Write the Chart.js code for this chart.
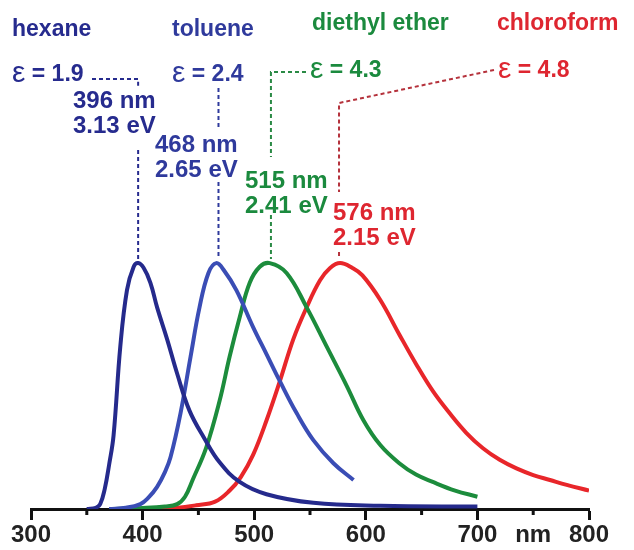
<!DOCTYPE html>
<html>
<head>
<meta charset="utf-8">
<script src="https://cdn.jsdelivr.net/npm/chart.js@4.4.1/dist/chart.umd.min.js"></script>
<style>
  html, body { margin: 0; padding: 0; background: #fff; }
  #wrap { width: 634px; height: 550px; }
</style>
</head>
<body>
<div id="wrap"><canvas id="chart" width="634" height="550"></canvas></div>
<script>
// emission spectra, normalised intensity
const hexaneNm = [350, 358, 362, 366, 370, 374, 380, 386, 392, 396, 401, 407, 413, 422, 431, 442, 455, 469, 487, 511, 553, 613, 700];
const hexaneI = [0, 0.005, 0.02, 0.08, 0.18, 0.3, 0.66, 0.89, 0.985, 1.0, 0.98, 0.92, 0.82, 0.69, 0.55, 0.40, 0.29, 0.19, 0.11, 0.06, 0.025, 0.013, 0.01];

const tolueneNm = [370, 385, 398, 405, 413, 420, 425, 434, 443, 451, 459, 466, 473, 484, 499, 511, 523, 538, 553, 571, 589];
const tolueneI = [0, 0.005, 0.02, 0.045, 0.09, 0.15, 0.21, 0.39, 0.62, 0.82, 0.96, 1.0, 0.97, 0.89, 0.74, 0.63, 0.52, 0.39, 0.28, 0.186, 0.118];

const etherNm = [370, 400, 420, 431, 438, 445, 457, 469, 478, 487, 496, 505, 514, 529, 547, 565, 583, 598, 613, 630, 645, 660, 680, 700];
const etherI = [0, 0.004, 0.01, 0.02, 0.05, 0.12, 0.25, 0.44, 0.62, 0.78, 0.92, 0.985, 1.0, 0.96, 0.82, 0.66, 0.50, 0.36, 0.26, 0.186, 0.14, 0.11, 0.075, 0.05];

const chloroformNm = [400, 430, 448, 465, 478, 488, 499, 511, 523, 535, 547, 559, 568, 577, 588, 597, 613, 630, 645, 660, 675, 690, 705, 720, 735, 750, 765, 780, 800];
const chloroformI = [0, 0.005, 0.015, 0.03, 0.075, 0.13, 0.22, 0.36, 0.52, 0.69, 0.82, 0.93, 0.98, 1.0, 0.98, 0.95, 0.85, 0.71, 0.59, 0.48, 0.39, 0.31, 0.247, 0.20, 0.165, 0.138, 0.118, 0.098, 0.075];

// annotations
const solventNames = ['hexane', 'toluene', 'diethyl ether', 'chloroform'];
const epsilonValues = ['1.9', '2.4', '4.3', '4.8'];
const peakNm = [396, 468, 515, 576];
const peakEv = ['3.13', '2.65', '2.41', '2.15'];

const lineColors = ['#252a8c', '#3a4db5', '#1c8c3c', '#e8262a'];
const textColors = ['#262b8e', '#2f3a9c', '#1b8a3e', '#de2630'];
const leaderColors = ['#262b8e', '#2f3a9c', '#2a8a45', '#b5323c'];

// where the text sits (pixels)
const labelLayout = [
  { name: [12, 30], eps: [12, 75], nm: [73, 101], ev: [73, 126], lead: [[92, 79], [null, 79], [null, 87]], gap: 150 },
  { name: [172, 30], eps: [172, 75], nm: [155, 145], ev: [155, 170], lead: [[null, 88], [null, 127]], gap: 182 },
  { name: [312, 24], eps: [310, 71], nm: [245, 181], ev: [245, 206], lead: [[306, 72], [null, 72], [null, 157]], gap: 215 },
  { name: [497, 24], eps: [498, 71], nm: [333, 213], ev: [333, 238], lead: [[494, 70], [null, 103], [null, 192]], gap: 252 }
];

const FONT = '"Liberation Sans", Arial, sans-serif';

function toPoints(xs, ys) {
  return xs.map((x, i) => ({ x: x, y: ys[i] }));
}

const series = [
  toPoints(hexaneNm, hexaneI),
  toPoints(tolueneNm, tolueneI),
  toPoints(etherNm, etherI),
  toPoints(chloroformNm, chloroformI)
];

const annotationPlugin = {
  id: 'annotations',
  afterDatasetsDraw(chart) {
    const ctx = chart.ctx;
    const xs = chart.scales.x;
    const ys = chart.scales.y;
    const top = ys.getPixelForValue(1);
    ctx.save();
    solventNames.forEach((name, i) => {
      const lay = labelLayout[i];
      const lx = xs.getPixelForValue(peakNm[i]);
      ctx.textBaseline = 'middle';
      ctx.textAlign = 'left';
      ctx.fillStyle = textColors[i];
      ctx.font = 'bold 23px ' + FONT;
      ctx.fillText(name, lay.name[0], lay.name[1]);

      // epsilon
      ctx.font = '30px ' + FONT;
      ctx.fillText('ε', lay.eps[0], lay.eps[1] - 1);
      const ew = ctx.measureText('ε').width;
      ctx.font = 'bold 23px ' + FONT;
      ctx.fillText(' = ' + epsilonValues[i], lay.eps[0] + ew, lay.eps[1]);

      ctx.font = 'bold 24px ' + FONT;
      ctx.fillText(peakNm[i] + ' nm', lay.nm[0], lay.nm[1]);
      ctx.fillText(peakEv[i] + ' eV', lay.ev[0], lay.ev[1]);

      // dashed leaders
      ctx.strokeStyle = leaderColors[i];
      ctx.lineWidth = 2;
      ctx.setLineDash([4, 3]);
      ctx.beginPath();
      lay.lead.forEach((p, k) => {
        const px = p[0] === null ? lx : p[0];
        if (k === 0) ctx.moveTo(px, p[1]); else ctx.lineTo(px, p[1]);
      });
      ctx.moveTo(lx, lay.gap);
      ctx.lineTo(lx, top - 4);
      ctx.stroke();
    });
    ctx.restore();
  },
  afterDraw(chart) {
    // minor ticks between the labelled ones
    const ctx = chart.ctx;
    const xs = chart.scales.x;
    const y0 = chart.chartArea.bottom;
    ctx.save();
    ctx.strokeStyle = '#111';
    ctx.lineWidth = 3;
    xs.ticks.forEach(t => {
      if (t.value % 100 !== 0) {
        const px = xs.getPixelForValue(t.value);
        ctx.beginPath();
        ctx.moveTo(px, y0);
        ctx.lineTo(px, y0 + 6);
        ctx.stroke();
      }
    });
    ctx.restore();
  }
};

new Chart(document.getElementById('chart').getContext('2d'), {
  type: 'line',
  data: {
    datasets: series.map((pts, i) => ({
      label: solventNames[i],
      data: pts,
      borderColor: lineColors[i],
      borderWidth: 4,
      pointRadius: 0,
      fill: false,
      tension: 0.4
    }))
  },
  options: {
    responsive: false,
    animation: false,
    layout: { padding: { left: 31, right: 45, top: 0, bottom: 0 } },
    plugins: {
      legend: { display: false },
      tooltip: { enabled: false }
    },
    scales: {
      x: {
        type: 'linear',
        min: 300,
        max: 800,
        border: { display: true, color: '#111', width: 3 },
        grid: {
          drawOnChartArea: false,
          drawTicks: true,
          tickLength: 11,
          tickWidth: 3,
          tickColor: c => (c.tick && c.tick.value % 100 === 0) ? '#111' : 'rgba(0,0,0,0)'
        },
        ticks: {
          stepSize: 50,
          autoSkip: false,
          maxRotation: 0,
          padding: 9,
          color: '#222',
          font: { family: FONT, size: 24, weight: 'bold', lineHeight: 0.5 },
          callback: v => v % 100 === 0 ? String(v) : (v === 750 ? 'nm' : '')
        }
      },
      y: {
        display: false,
        min: 0,
        max: 2.07
      }
    }
  },
  plugins: [annotationPlugin]
});
</script>
</body>
</html>
